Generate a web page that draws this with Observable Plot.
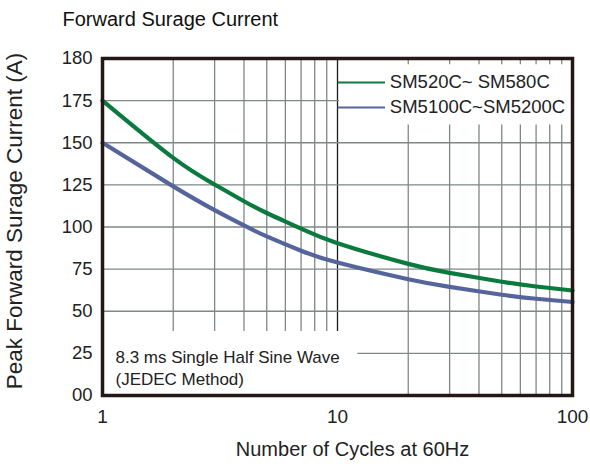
<!DOCTYPE html>
<html><head><meta charset="utf-8">
<script src="https://cdn.jsdelivr.net/npm/d3@7"></script>
<script src="https://cdn.jsdelivr.net/npm/@observablehq/plot@0.6"></script>
<style>
body{margin:0;background:#fff}
svg{font-family:"Liberation Sans",Arial,Helvetica,sans-serif}
</style>
</head><body><div id="chart"></div>
<script>
// ---- data ----
const cycles = [1, 2, 3, 4, 5, 7, 10, 20, 30, 50, 70, 100];
const sm520  = [175, 141, 125.2, 115.3, 108.3, 99.0, 90.4, 78.1, 72.8, 67.5, 64.7, 62.3];
const sm5100 = [150, 124.1, 110, 100.9, 94.4, 85.9, 78.9, 69, 64.5, 59.8, 57.4, 55.5];
const seriesNames = ["SM520C~ SM580C", "SM5100C~SM5200C"];
const seriesColors = ["#0b7a3e", "#55659c"];
const yTicks = [0, 25, 50, 75, 100, 125, 150, 175, 200];
const yTickLabels = ["00", "25", "50", "75", "100", "125", "150", "175", "180"];
const xTicks = [1, 10, 100];
const xTickLabels = ["1", "10", "100"];
const leftMinor = [2, 3, 4, 5, 6, 7, 8, 9];
const rightMinor = [20, 30, 40, 50, 60, 70, 80, 90];
const titleText = "Forward Surage Current";
const xLabel = "Number of Cycles at 60Hz";
const yLabel = "Peak Forward Surage Current (A)";
const noteText = "8.3 ms Single Half Sine Wave\n(JEDEC Method)";

const rows = [];
[sm520, sm5100].forEach((vals, s) => cycles.forEach((c, i) => rows.push({series: seriesNames[s], x: c, y: vals[i]})));

const grid = "#7e8884";
const ink = "#222";

const chart = Plot.plot({
  width: 590, height: 468,
  marginLeft: 102, marginRight: 18, marginTop: 58, marginBottom: 73,
  x: {type: "log", domain: [1, 100]},
  y: {domain: [0, 200]},
  color: {domain: seriesNames, range: seriesColors},
  marks: [
    // grid
    Plot.ruleX(leftMinor, {y1: 38, y2: 200, stroke: grid, strokeWidth: 1.3}),
    Plot.ruleX([10], {y1: 38, y2: 200, stroke: "#1a1a1a", strokeWidth: 1.3}),
    Plot.ruleX(rightMinor, {y1: 0, y2: 160.5, stroke: grid, strokeWidth: 1.3}),
    Plot.ruleX(rightMinor, {y1: 196.3, y2: 200, stroke: grid, strokeWidth: 1.3}),
    Plot.ruleY(yTicks.filter(v => v >= 50 && v <= 150), {x1: 1, x2: 100, stroke: grid, strokeWidth: 1.3}),
    Plot.ruleY(yTicks.filter(v => v === 175), {x1: 1, x2: 10.2, stroke: grid, strokeWidth: 1.3}),
    Plot.ruleY(yTicks.filter(v => v === 25), {x1: 12.2, x2: 100, stroke: grid, strokeWidth: 1.3}),
    // curves
    Plot.line(rows, {x: "x", y: "y", z: "series", stroke: "series", strokeWidth: 4.2, curve: "natural"}),
    // legend
    Plot.ruleY(seriesNames, {y: (d, i) => 185.8 - i * 14.9, x1: 10.05, x2: 16, stroke: (d) => d, strokeWidth: 2}),
    Plot.text(seriesNames, {y: (d, i) => 185.8 - i * 14.9, x: 16.7, text: d => d, textAnchor: "start", fontSize: 18.5, fill: ink}),
    // note
    Plot.text([noteText], {frameAnchor: "bottom-left", text: d => d, dx: 13, dy: -48, lineAnchor: "top", textAnchor: "start", fontSize: 17, lineHeight: 1.3, fill: ink}),
    // frame
    Plot.frame({stroke: "#231815", strokeWidth: 3.5}),
    // axes
    Plot.axisY({ticks: yTicks, tickFormat: (d) => yTickLabels[yTicks.indexOf(d)], tickSize: 0, tickPadding: 10, fontSize: 18.5, label: null, fill: ink}),
    Plot.axisX({ticks: xTicks, tickFormat: d => xTickLabels[xTicks.indexOf(d)], tickSize: 0, tickPadding: 14, fontSize: 19, label: null, fill: ink}),
    // labels
    Plot.text([titleText], {frameAnchor: "top-left", text: d => d, dx: -40, dy: -47, lineAnchor: "top", textAnchor: "start", fontSize: 20, fill: "#111"}),
    Plot.text([xLabel], {frameAnchor: "bottom", text: d => d, dx: 15, dy: 60, fontSize: 20, fill: ink}),
    Plot.text([yLabel], {frameAnchor: "left", text: d => d, dx: -88, dy: -6, rotate: -90, textAnchor: "middle", fontSize: 22.5, fill: ink})
  ]
});
document.getElementById("chart").append(chart);
</script>
</body></html>
